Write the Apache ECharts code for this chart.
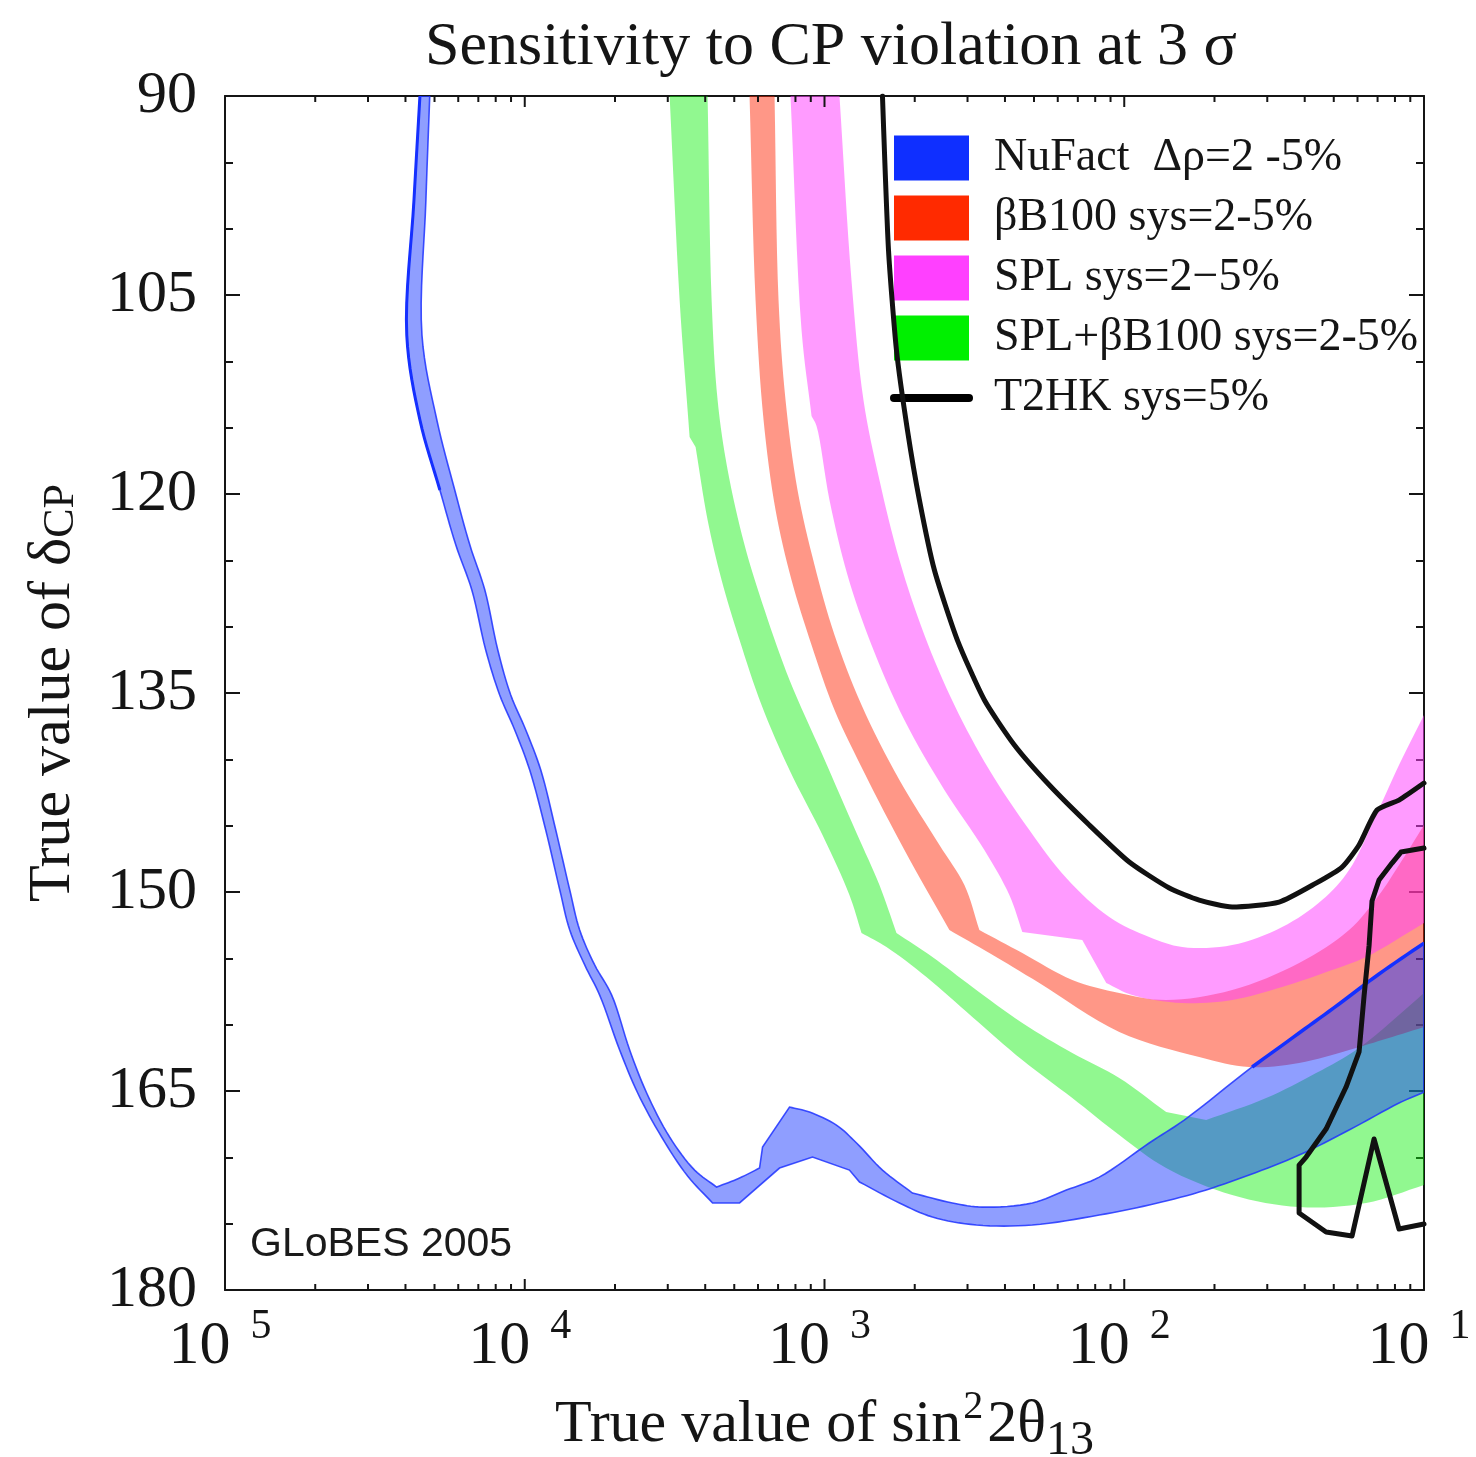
<!DOCTYPE html>
<html>
<head>
<meta charset="utf-8">
<script src="https://cdn.jsdelivr.net/npm/echarts@6/dist/echarts.min.js"></script>
<style>
  html, body { margin: 0; padding: 0; background: #ffffff; }
  #chart { width: 1476px; height: 1457px; }
</style>
</head>
<body>
<div id="chart"></div>
<script>
// Series names, as listed in the legend
const legendNames = [
  'NuFact  \u0394\u03c1=2 -5%',
  '\u03b2B100 sys=2-5%',
  'SPL sys=2\u22125%',
  'SPL+\u03b2B100 sys=2-5%',
  'T2HK sys=5%'
];

// Axis ticks: decades of sin^2 2theta13 and their printed exponents
const xMajorTicks = [1e-5, 1e-4, 1e-3, 1e-2, 1e-1];
const xTickLabels = ['5', '4', '3', '2', '1'];
const yMin = 90, yMax = 180, yStep = 15;

// Each band is bounded by two contours [sin^2 2theta13, deltaCP in degrees]
const nufactEdgeA = [
  [4.82e-5, 90], [4.68e-5, 97.84], [4.54e-5, 108.02], [5.09e-5, 114.42], [5.84e-5, 119.70],
  [6.56e-5, 123.85], [7.36e-5, 127.24], [8.13e-5, 131.76], [8.98e-5, 135.15], [1.008e-4, 137.79],
  [1.131e-4, 140.81], [1.269e-4, 145.33], [1.413e-4, 149.85], [1.525e-4, 152.87], [1.711e-4, 155.50],
  [1.950e-4, 157.77], [2.239e-4, 161.91], [2.551e-4, 165.15], [3.043e-4, 168.47], [3.687e-4, 170.96],
  [4.365e-4, 172.24], [5.208e-4, 171.56], [6.072e-4, 170.81], [6.214e-4, 169.22], [7.643e-4, 166.21],
  [8.913e-4, 166.59], [1.096e-3, 167.57], [1.279e-3, 168.92], [1.561e-3, 170.96], [1.965e-3, 172.69],
  [2.671e-3, 173.44], [3.363e-3, 173.75], [4.936e-3, 173.44], [6.408e-3, 172.47], [8.254e-3, 171.49],
  [1.211e-2, 168.92], [1.585e-2, 167.19], [2.671e-2, 163.19], [3.831e-2, 160.63], [5.208e-2, 158.44],
  [7.079e-2, 156.18], [0.1, 153.85]
];
const nufactEdgeB = [
  [4.47e-5, 90], [4.27e-5, 97.84], [4.04e-5, 108.02], [4.47e-5, 114.42], [5.21e-5, 119.70],
  [5.89e-5, 123.85], [6.66e-5, 127.24], [7.41e-5, 131.76], [8.25e-5, 135.15], [9.26e-5, 137.79],
  [1.039e-4, 140.81], [1.175e-4, 145.33], [1.309e-4, 149.85], [1.413e-4, 152.87], [1.585e-4, 155.50],
  [1.778e-4, 157.77], [2.073e-4, 161.91], [2.381e-4, 165.15], [2.862e-4, 168.47], [3.494e-4, 171.41],
  [4.233e-4, 173.44], [5.208e-4, 173.44], [7.079e-4, 170.81], [9.120e-4, 169.98], [1.211e-3, 170.96],
  [1.309e-3, 171.86], [1.778e-3, 173.44], [2.291e-3, 174.50], [3.211e-3, 175.10], [4.936e-3, 175.10],
  [8.254e-3, 174.35], [1.211e-2, 173.59], [1.778e-2, 172.62], [2.610e-2, 171.33], [3.831e-2, 169.83],
  [5.623e-2, 167.94], [8.254e-2, 165.91], [0.1, 165.08]
];

const betaBeamLow = [
  [5.623e-4, 90], [5.888e-4, 105.38], [6.262e-4, 114.42], [6.866e-4, 121.21], [7.762e-4, 126.48],
  [9.052e-4, 131.38], [1.080e-3, 136.28], [1.370e-3, 141.18], [1.848e-3, 146.84], [2.610e-3, 152.87],
  [3.548e-3, 154.60], [5.208e-3, 156.86], [9.624e-3, 160.55], [1.778e-2, 162.44], [2.610e-2, 163.19],
  [3.831e-2, 162.89], [5.623e-2, 161.91], [7.244e-2, 161.16], [0.1, 160.18]
];
const betaBeamHigh = [
  [6.813e-4, 90], [7.025e-4, 105.38], [7.413e-4, 112.92], [8.128e-4, 119.70], [9.261e-4, 125.35],
  [1.080e-3, 130.63], [1.329e-3, 135.91], [1.778e-3, 141.56], [2.418e-3, 146.46], [2.929e-3, 149.48],
  [3.286e-3, 152.87], [4.571e-3, 154.60], [6.710e-3, 156.63], [9.624e-3, 157.62], [1.380e-2, 158.14],
  [2.291e-2, 157.39], [3.831e-2, 155.35], [5.623e-2, 152.87], [7.079e-2, 150.23], [8.254e-2, 147.97],
  [0.1, 144.95]
];

const splLow = [
  [7.702e-4, 90], [8.382e-4, 107.64], [9.052e-4, 114.12], [9.405e-4, 114.88], [1.039e-3, 120.45],
  [1.193e-3, 126.11], [1.435e-3, 131.38], [1.848e-3, 137.04], [2.512e-3, 142.31], [3.415e-3, 146.84],
  [4.137e-3, 150.23], [4.571e-3, 153.02], [7.244e-3, 153.62], [8.710e-3, 156.86], [1.063e-2, 157.77],
  [1.561e-2, 158.37], [2.291e-2, 158.14], [3.363e-2, 157.16], [4.936e-2, 155.88], [6.408e-2, 154.90],
  [0.1, 152.34]
];
const splHigh = [
  [1.122e-3, 90], [1.230e-3, 103.87], [1.349e-3, 112.92], [1.525e-3, 118.95], [1.778e-3, 124.98],
  [2.154e-3, 130.63], [2.712e-3, 135.91], [3.548e-3, 140.81], [4.824e-3, 145.33], [6.408e-3, 148.95],
  [8.913e-3, 151.89], [1.211e-2, 153.39], [1.561e-2, 154.15], [2.291e-2, 154.00], [3.363e-2, 152.64],
  [4.571e-2, 150.61], [5.623e-2, 148.35], [6.918e-2, 144.20], [8.254e-2, 140.43], [0.1, 136.66]
];

const comboLow = [
  [3.043e-4, 90], [3.286e-4, 105.38], [3.548e-4, 115.70], [3.715e-4, 116.46], [4.074e-4, 121.96],
  [4.536e-4, 126.48], [5.208e-4, 131.01], [6.166e-4, 135.91], [7.643e-4, 140.81], [9.848e-4, 145.71],
  [1.211e-3, 150.23], [1.329e-3, 153.09], [1.610e-3, 154.15], [2.188e-3, 156.41], [3.113e-3, 159.42],
  [4.571e-3, 162.67], [6.710e-3, 165.53], [9.624e-3, 168.32], [1.380e-2, 170.81], [2.291e-2, 172.84],
  [3.831e-2, 173.75], [6.408e-2, 173.44], [0.1, 172.09]
];
const comboHigh = [
  [4.074e-4, 90], [4.201e-4, 105.38], [4.399e-4, 112.92], [4.752e-4, 118.19], [5.412e-4, 123.85],
  [6.310e-4, 128.75], [7.643e-4, 134.02], [9.848e-4, 139.68], [1.279e-3, 145.56], [1.525e-3, 149.48],
  [1.738e-3, 153.09], [2.291e-3, 154.90], [3.113e-3, 157.16], [4.571e-3, 159.88], [6.710e-3, 162.14],
  [9.624e-3, 164.02], [1.380e-2, 166.59], [1.876e-2, 167.19], [2.974e-2, 165.53], [4.365e-2, 163.65],
  [6.072e-2, 161.76], [0.1, 157.62]
];

// T2HK 3 sigma contour: main branch and the closed region at large theta13
const t2hkMain = [
  [1.561e-3, 90], [1.635e-3, 101.61], [1.738e-3, 109.15], [1.891e-3, 115.18], [2.073e-3, 120.45],
  [2.326e-3, 125.73], [2.775e-3, 131.01], [3.415e-3, 135.53], [4.299e-3, 138.92], [5.623e-3, 141.94],
  [7.643e-3, 144.95], [1.039e-2, 147.74], [1.413e-2, 149.70], [1.778e-2, 150.61], [2.291e-2, 151.13],
  [3.286e-2, 150.76], [4.365e-2, 149.33], [5.329e-2, 148.12], [6.072e-2, 146.46], [6.972e-2, 143.82],
  [8.254e-2, 143.07], [0.1, 141.79]
];
const t2hkIsland = [
  [0.1, 146.69], [8.381e-2, 146.99], [7.822e-2, 147.82], [7.079e-2, 149.10], [6.708e-2, 150.68],
  [6.556e-2, 154.07], [6.310e-2, 157.84], [6.072e-2, 162.06], [5.495e-2, 164.70], [4.713e-2, 167.87],
  [4.043e-2, 169.98], [3.831e-2, 170.58], [3.831e-2, 174.20], [4.713e-2, 175.63], [5.754e-2, 175.93],
  [6.813e-2, 168.62], [8.254e-2, 175.40], [0.1, 175.03]
];

const SERIF = '"Liberation Serif", "DejaVu Serif", serif';
const INK = '#151515';

// minor ticks at 2..9 x each decade
const xAllTicks = [];
xMajorTicks.forEach((d, i) => {
  xAllTicks.push(d);
  if (i < xMajorTicks.length - 1) for (let m = 2; m <= 9; m++) xAllTicks.push(d * m);
});

// centripetal Catmull-Rom through screen points; sharp corners of a contour are kept
function lerpPt(a, b, ta, tb, t) {
  const w = (tb - ta) || 1e-6;
  const u = (tb - t) / w, v = (t - ta) / w;
  return [a[0] * u + b[0] * v, a[1] * u + b[1] * v];
}
function splinePiece(P, n) {
  if (P.length < 3) return P.slice();
  const out = [];
  const dist = (a, b) => Math.max(Math.sqrt(Math.hypot(b[0] - a[0], b[1] - a[1])), 1e-3);
  for (let i = 0; i < P.length - 1; i++) {
    const p1 = P[i], p2 = P[i + 1];
    const p0 = P[i - 1] || [2 * p1[0] - p2[0], 2 * p1[1] - p2[1]];
    const p3 = P[i + 2] || [2 * p2[0] - p1[0], 2 * p2[1] - p1[1]];
    const t0 = 0, t1 = t0 + dist(p0, p1), t2 = t1 + dist(p1, p2), t3 = t2 + dist(p2, p3);
    for (let k = 0; k < n; k++) {
      const t = t1 + (t2 - t1) * k / n;
      const A1 = lerpPt(p0, p1, t0, t1, t), A2 = lerpPt(p1, p2, t1, t2, t), A3 = lerpPt(p2, p3, t2, t3, t);
      const B1 = lerpPt(A1, A2, t0, t2, t), B2 = lerpPt(A2, A3, t1, t3, t);
      out.push(lerpPt(B1, B2, t1, t2, t));
    }
  }
  out.push(P[P.length - 1]);
  return out;
}
function smoothPts(P, steps) {
  const n = steps || 8;
  const cornerTurn = 0.34; // radians
  const pieces = [];
  let start = 0;
  for (let i = 1; i < P.length - 1; i++) {
    const a = Math.atan2(P[i][1] - P[i - 1][1], P[i][0] - P[i - 1][0]);
    const b = Math.atan2(P[i + 1][1] - P[i][1], P[i + 1][0] - P[i][0]);
    let d = Math.abs(b - a);
    if (d > Math.PI) d = 2 * Math.PI - d;
    if (d > cornerTurn) { pieces.push(P.slice(start, i + 1)); start = i; }
  }
  pieces.push(P.slice(start));
  const out = [];
  pieces.forEach((piece, k) => {
    const s = splinePiece(piece, n);
    out.push.apply(out, k === 0 ? s : s.slice(1));
  });
  return out;
}

// filled band between two contours, drawn through the cartesian scales
function bandSeries(name, edgeA, edgeB, fill, legendColor, stroke, accents) {
  const outline = edgeA.concat(edgeB.slice().reverse());
  return {
    type: 'custom',
    name: name,
    silent: true,
    clip: true,
    data: outline,
    itemStyle: { color: legendColor },
    renderItem: function (params, api) {
      if (params.dataIndex !== 0) return null;
      const a = smoothPts(edgeA.map(p => api.coord(p)));
      const b = smoothPts(edgeB.map(p => api.coord(p)));
      const children = [{
        type: 'polygon',
        shape: { points: a.concat(b.slice().reverse()) },
        style: { fill: fill, stroke: stroke || null, lineWidth: stroke ? 1.6 : 0 }
      }];
      (accents || []).forEach(acc => {
        children.push({
          type: 'polyline',
          shape: { points: smoothPts(acc.pts.map(p => api.coord(p))) },
          style: { stroke: acc.color, lineWidth: acc.width, fill: null, lineJoin: 'round' }
        });
      });
      return { type: 'group', children: children };
    }
  };
}

function contourSeries(name, pts, color, width, smooth) {
  return {
    type: 'line',
    name: name,
    data: pts,
    symbol: 'none',
    silent: true,
    smooth: smooth || false,
    lineStyle: { color: color, width: width, join: 'round', cap: 'round' },
    itemStyle: { color: color },
    z: 5
  };
}

const chart = echarts.init(document.getElementById('chart'), null, { renderer: 'canvas' });

chart.setOption({
  animation: false,
  backgroundColor: '#ffffff',
  title: {
    text: 'Sensitivity to CP violation at 3 \u03c3',
    left: 420,
    top: 12,
    textStyle: { fontFamily: SERIF, fontSize: 62, fontWeight: 'normal', color: INK }
  },
  grid: { left: 225, right: 52, top: 96, bottom: 167, containLabel: false, outerBoundsMode: 'none' },
  legend: {
    orient: 'vertical',
    left: 885,
    top: 130,
    itemWidth: 75,
    itemHeight: 45,
    itemGap: 14,
    selectedMode: false,
    textStyle: { fontFamily: SERIF, fontSize: 46, color: INK, lineHeight: 45, padding: [0, 0, 0, 20] },
    data: [
      { name: legendNames[0], icon: 'rect', itemStyle: { color: '#0f2fff' } },
      { name: legendNames[1], icon: 'rect', itemStyle: { color: '#ff2a00' } },
      { name: legendNames[2], icon: 'rect', itemStyle: { color: '#ff40ff' } },
      { name: legendNames[3], icon: 'rect', itemStyle: { color: '#00f000' } },
      { name: legendNames[4], itemStyle: { opacity: 0 }, lineStyle: { color: '#000', width: 8, cap: 'round', opacity: 1 } }
    ]
  },
  xAxis: [
    {
      type: 'log', logBase: 10, min: xMajorTicks[0], max: xMajorTicks[xMajorTicks.length - 1],
      position: 'bottom',
      axisLine: { show: true, lineStyle: { color: INK, width: 2 } },
      axisTick: { show: false },
      minorTick: { show: false },
      splitLine: { show: false },
      axisLabel: {
        margin: 16,
        showMinLabel: true, showMaxLabel: true,
        formatter: function (v) {
          const i = xMajorTicks.findIndex(t => Math.abs(Math.log10(t) - Math.log10(v)) < 1e-6);
          return i < 0 ? '' : '{b|10}{s|' + xTickLabels[i] + '}';
        },
        rich: {
          b: { fontFamily: SERIF, fontSize: 62, color: INK, lineHeight: 62, padding: [19, 0, 0, 0] },
          s: { fontFamily: SERIF, fontSize: 42, color: INK, lineHeight: 42, verticalAlign: 'top', padding: [0, 10, 0, 20] }
        }
      },
      name: '{t|True value of sin}{sup|2}{t|2\u03b8}{sub|13}',
      nameLocation: 'middle',
      nameGap: 95,
      nameTextStyle: {
        rich: {
          t: { fontFamily: SERIF, fontSize: 60, color: INK, lineHeight: 60 },
          sup: { fontFamily: SERIF, fontSize: 40, color: INK, lineHeight: 40, verticalAlign: 'top', padding: [2, 4, 0, 2] },
          sub: { fontFamily: SERIF, fontSize: 48, color: INK, lineHeight: 80, verticalAlign: 'bottom' }
        }
      }
    },
    {
      type: 'log', logBase: 10, min: xMajorTicks[0], max: xMajorTicks[xMajorTicks.length - 1],
      position: 'top',
      axisLine: { show: true, lineStyle: { color: INK, width: 2 } },
      axisTick: { show: false },
      axisLabel: { show: false },
      splitLine: { show: false }
    }
  ],
  yAxis: [
    {
      type: 'value', min: yMin, max: yMax, interval: yStep, inverse: true,
      position: 'left',
      axisLine: { show: true, lineStyle: { color: INK, width: 2 } },
      axisTick: { show: true, inside: true, length: 15, lineStyle: { color: INK, width: 2 } },
      minorTick: { show: true, splitNumber: 3, length: 8, lineStyle: { color: INK, width: 2 } },
      splitLine: { show: false },
      axisLabel: { fontFamily: SERIF, fontSize: 60, color: INK, margin: 28 },
      name: '{t|True value of \u03b4}{sub|CP}',
      nameLocation: 'middle',
      nameRotate: 90,
      nameGap: 142,
      nameTextStyle: {
        rich: {
          t: { fontFamily: SERIF, fontSize: 60, color: INK, lineHeight: 60 },
          sub: { fontFamily: SERIF, fontSize: 44, color: INK, lineHeight: 36, verticalAlign: 'bottom' }
        }
      }
    },
    {
      type: 'value', min: yMin, max: yMax, interval: yStep, inverse: true,
      position: 'right',
      axisLine: { show: true, lineStyle: { color: INK, width: 2 } },
      axisTick: { show: true, inside: true, length: 15, lineStyle: { color: INK, width: 2 } },
      minorTick: { show: true, splitNumber: 3, length: 8, lineStyle: { color: INK, width: 2 } },
      splitLine: { show: false },
      axisLabel: { show: false }
    }
  ],
  graphic: [
    {
      type: 'text', left: 250, top: 1224, z: 10,
      style: { text: 'GLoBES 2005', font: '41px "Liberation Sans", Arial, sans-serif', fill: '#1a1a1a' }
    }
  ],
  series: [
    bandSeries(legendNames[3], comboLow, comboHigh, 'rgba(10,240,8,0.45)', '#00f000'),
    bandSeries(legendNames[1], betaBeamLow, betaBeamHigh, 'rgba(255,34,0,0.47)', '#ff2a00'),
    bandSeries(legendNames[2], splLow, splHigh, 'rgba(255,64,255,0.52)', '#ff40ff'),
    bandSeries(legendNames[0], nufactEdgeA, nufactEdgeB, 'rgba(16,48,255,0.47)', '#0f2fff', 'rgba(30,50,255,0.85)', [
      { pts: nufactEdgeB.slice(0, 5), color: '#1530ff', width: 3 },
      { pts: nufactEdgeA.slice(-5), color: '#1530ff', width: 3.5 }
    ]),
    contourSeries(legendNames[4], t2hkMain, '#111111', 5, 0.2),
    contourSeries(legendNames[4], t2hkIsland, '#111111', 5, false),
    {
      // log ticks on the bottom and top frame
      type: 'custom',
      silent: true,
      z: 10,
      data: xAllTicks.map(v => [v, yMax]),
      renderItem: function (params, api) {
        const v = api.value(0);
        const major = xMajorTicks.indexOf(v) >= 0;
        const len = major ? 11 : 6;
        const b = api.coord([v, yMax]);
        const t = api.coord([v, yMin]);
        return {
          type: 'group',
          children: [
            { type: 'line', shape: { x1: b[0], y1: b[1], x2: b[0], y2: b[1] - len }, style: { stroke: INK, lineWidth: 2 } },
            { type: 'line', shape: { x1: t[0], y1: t[1], x2: t[0], y2: t[1] + len }, style: { stroke: INK, lineWidth: 2 } }
          ]
        };
      }
    }
  ]
});
</script>
</body>
</html>
